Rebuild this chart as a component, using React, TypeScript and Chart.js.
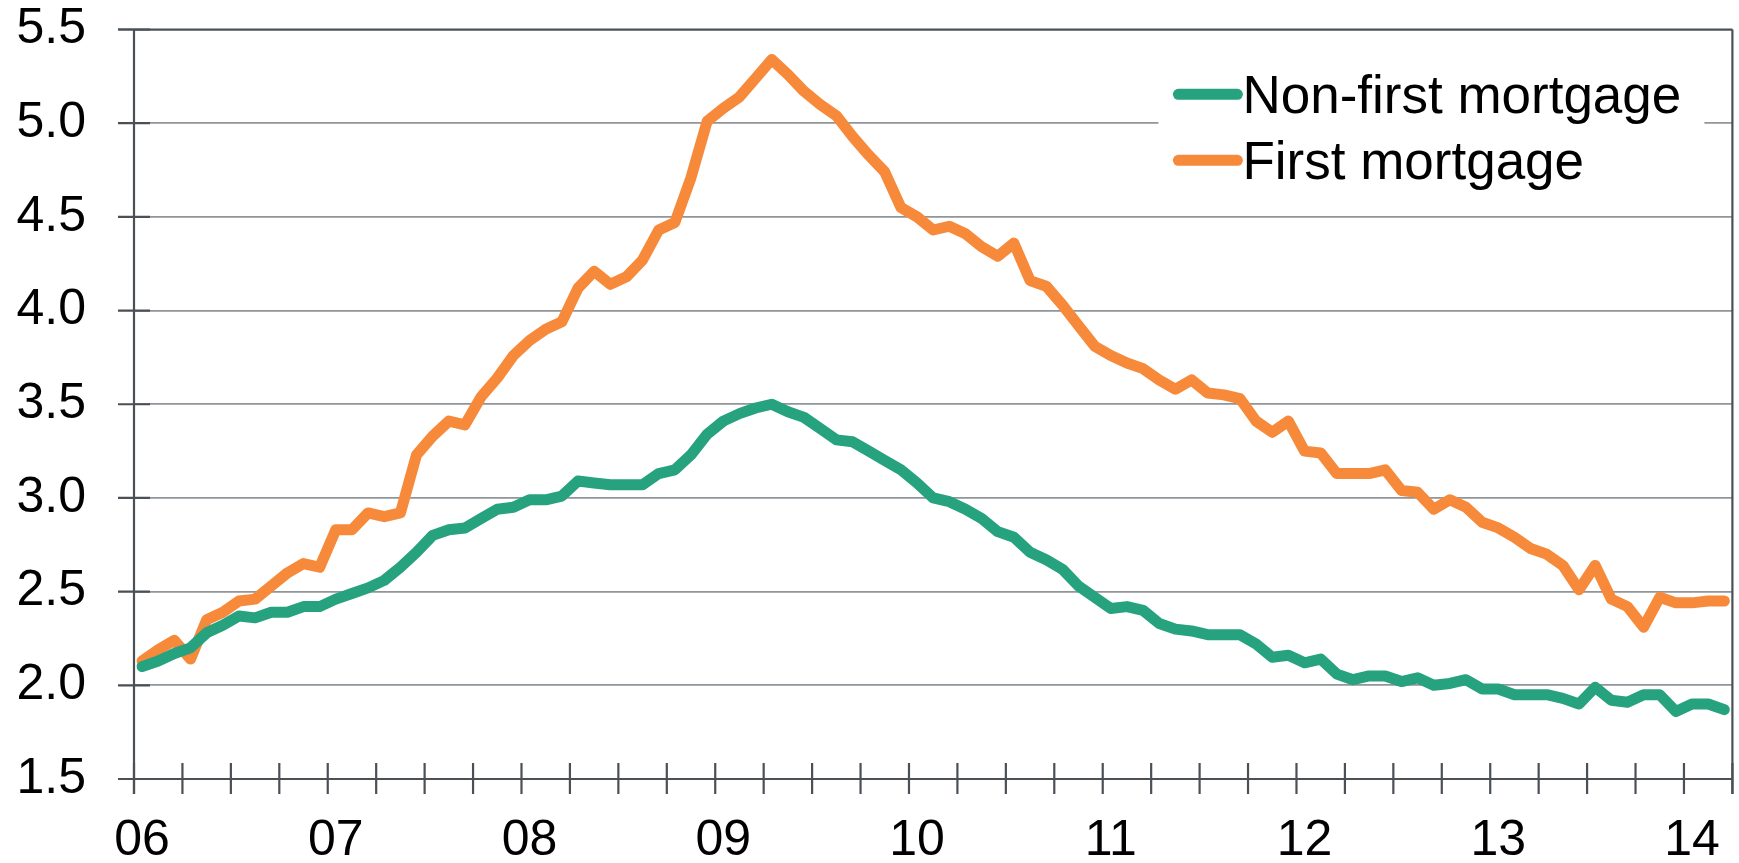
import React, { useEffect, useRef } from "react";
import { Chart, registerables } from "chart.js";

Chart.register(...registerables);

const yearLabels = ["06", "07", "08", "09", "10", "11", "12", "13", "14"];
const monthsInLastYear = 3;

const nonFirstMortgage = [
  2.10, 2.13, 2.17, 2.20, 2.28, 2.32, 2.37, 2.36, 2.39, 2.39, 2.42, 2.42,
  2.46, 2.49, 2.52, 2.56, 2.63, 2.71, 2.80, 2.83, 2.84, 2.89, 2.94, 2.95,
  2.99, 2.99, 3.01, 3.09, 3.08, 3.07, 3.07, 3.07, 3.13, 3.15, 3.23, 3.34,
  3.41, 3.45, 3.48, 3.50, 3.46, 3.43, 3.37, 3.31, 3.30, 3.25, 3.20, 3.15,
  3.08, 3.00, 2.98, 2.94, 2.89, 2.82, 2.79, 2.71, 2.67, 2.62, 2.53, 2.47,
  2.41, 2.42, 2.40, 2.33, 2.30, 2.29, 2.27, 2.27, 2.27, 2.22, 2.15, 2.16,
  2.12, 2.14, 2.06, 2.03, 2.05, 2.05, 2.02, 2.04, 2.00, 2.01, 2.03, 1.98,
  1.98, 1.95, 1.95, 1.95, 1.93, 1.90, 1.99, 1.92, 1.91, 1.95, 1.95, 1.86,
  1.90, 1.90, 1.87,
];

const firstMortgage = [
  2.13, 2.19, 2.24, 2.14, 2.35, 2.39, 2.45, 2.46, 2.53, 2.60, 2.65, 2.63,
  2.83, 2.83, 2.92, 2.90, 2.92, 3.23, 3.33, 3.41, 3.39, 3.54, 3.64, 3.76,
  3.84, 3.90, 3.94, 4.12, 4.21, 4.14, 4.18, 4.27, 4.43, 4.47, 4.71, 5.01,
  5.08, 5.14, 5.24, 5.34, 5.26, 5.17, 5.10, 5.04, 4.93, 4.83, 4.74, 4.55,
  4.50, 4.43, 4.45, 4.41, 4.34, 4.29, 4.36, 4.16, 4.13, 4.03, 3.92, 3.81,
  3.76, 3.72, 3.69, 3.63, 3.58, 3.63, 3.56, 3.55, 3.53, 3.41, 3.35, 3.41,
  3.25, 3.24, 3.13, 3.13, 3.13, 3.15, 3.04, 3.03, 2.94, 2.99, 2.95, 2.87,
  2.84, 2.79, 2.73, 2.70, 2.64, 2.51, 2.64, 2.46, 2.42, 2.31, 2.47, 2.44,
  2.44, 2.45, 2.45,
];

const seriesNames = ["Non-first mortgage", "First mortgage"];
const seriesColors = ["#26a27f", "#f68a3a"];

const months: string[] = [];
yearLabels.forEach((yy, yi) => {
  const n = yi === yearLabels.length - 1 ? monthsInLastYear : 12;
  for (let m = 1; m <= n; m++) months.push(`${yy}-${String(m).padStart(2, "0")}`);
});

const FONT = '"Liberation Sans", Arial, Helvetica, sans-serif';
const DARK = "#4b5057";
const GRID = "#909599";
const LINE_W = 11;

const framePlugin = {
  id: "frame",
  afterDraw(chart: any) {
    const { ctx, chartArea: a, scales } = chart;
    const xs = scales.x;
    const ys = scales.y;
    ctx.save();

    // legend box
    ctx.fillStyle = "#ffffff";
    ctx.fillRect(a.right - 574, a.top + 12, 546, 170);
    const lx0 = a.right - 554;
    const lx1 = a.right - 495;
    const rows = [a.top + 64.8, a.top + 130.8];
    ctx.lineCap = "round";
    ctx.lineWidth = LINE_W;
    rows.forEach((ry, i) => {
      ctx.strokeStyle = seriesColors[i];
      ctx.beginPath();
      ctx.moveTo(lx0, ry);
      ctx.lineTo(lx1, ry);
      ctx.stroke();
    });
    ctx.fillStyle = "#000";
    ctx.font = `53px ${FONT}`;
    ctx.textBaseline = "alphabetic";
    ctx.textAlign = "left";
    rows.forEach((ry, i) => {
      ctx.fillText(seriesNames[i], a.right - 490, ry + 19);
    });

    // frame lines
    ctx.lineCap = "butt";
    ctx.strokeStyle = DARK;
    ctx.lineWidth = 2.2;
    ctx.beginPath();
    ctx.moveTo(a.left - 16, a.top);
    ctx.lineTo(a.right, a.top);
    ctx.moveTo(a.left - 16, a.bottom);
    ctx.lineTo(a.right, a.bottom);
    ctx.moveTo(a.left, a.top);
    ctx.lineTo(a.left, a.bottom + 15);
    ctx.moveTo(a.right, a.top);
    ctx.lineTo(a.right, a.bottom + 15);
    ctx.stroke();

    // y tick marks (crossing)
    ctx.beginPath();
    ys.ticks.forEach((t: any) => {
      const py = ys.getPixelForValue(t.value);
      ctx.moveTo(a.left - 16, py);
      ctx.lineTo(a.left + 16, py);
    });
    ctx.stroke();

    // x tick marks every quarter (crossing)
    const half = (xs.getPixelForValue(1) - xs.getPixelForValue(0)) / 2;
    ctx.beginPath();
    for (let i = 0; i <= months.length; i += 3) {
      const px = xs.getPixelForValue(i) - half;
      ctx.moveTo(px, a.bottom - 16);
      ctx.lineTo(px, a.bottom + 15);
    }
    ctx.stroke();
    ctx.restore();
  },
};

export default function App() {
  const ref = useRef<HTMLCanvasElement | null>(null);

  useEffect(() => {
    document.body.style.margin = "0";
    const canvas = ref.current;
    if (!canvas) return;
    const chart = new Chart(canvas, {
      type: "line",
      data: {
        labels: months,
        datasets: [
          {
            label: seriesNames[0],
            data: nonFirstMortgage,
            borderColor: seriesColors[0],
            backgroundColor: seriesColors[0],
            borderWidth: LINE_W,
            pointRadius: 0,
            tension: 0,
            borderJoinStyle: "round",
            borderCapStyle: "round",
          },
          {
            label: seriesNames[1],
            data: firstMortgage,
            borderColor: seriesColors[1],
            backgroundColor: seriesColors[1],
            borderWidth: LINE_W,
            pointRadius: 0,
            tension: 0,
            borderJoinStyle: "round",
            borderCapStyle: "round",
          },
        ],
      },
      options: {
        responsive: false,
        animation: false,
        events: [],
        layout: { padding: { top: 29.5, right: 6.6, left: 0, bottom: 0 } },
        plugins: { legend: { display: false }, tooltip: { enabled: false }, title: { display: false } },
        scales: {
          x: {
            type: "category",
            offset: true,
            grid: { display: false, drawTicks: false, offset: true },
            border: { display: false },
            ticks: {
              autoSkip: false,
              maxRotation: 0,
              minRotation: 0,
              padding: 32.5,
              color: "#000",
              font: { family: FONT, size: 50, lineHeight: 1.2 },
              callback: (_v: any, i: number) => (i % 12 === 0 ? months[i].slice(0, 2) : ""),
            },
            afterFit: (s: any) => {
              s.height = 84;
              s.paddingLeft = 0;
              s.paddingRight = 0;
              s.paddingTop = 0;
              s.paddingBottom = 0;
            },
          },
          y: {
            min: 1.5,
            max: 5.5,
            grid: { color: GRID, lineWidth: 1.7, drawTicks: false },
            border: { display: false },
            ticks: {
              stepSize: 0.5,
              padding: 48,
              color: "#000",
              font: { family: FONT, size: 50, lineHeight: 1.15 },
              callback: (v: any) => Number(v).toFixed(1),
            },
            afterFit: (s: any) => {
              s.width = 134;
              s.paddingTop = 0;
              s.paddingBottom = 0;
              s.paddingLeft = 0;
              s.paddingRight = 0;
            },
          },
        },
      },
      plugins: [framePlugin],
    });
    return () => chart.destroy();
  }, []);

  return (
    <div style={{ position: "absolute", left: 0, top: 0, width: 1739, height: 863, background: "#fff" }}>
      <canvas ref={ref} width={1739} height={863} style={{ display: "block" }} />
    </div>
  );
}
